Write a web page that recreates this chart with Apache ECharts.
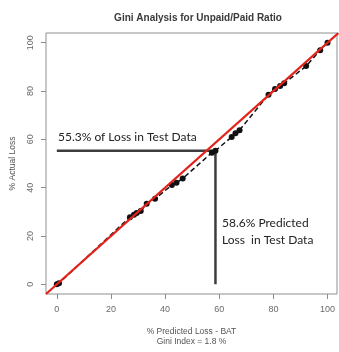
<!DOCTYPE html>
<html><head><meta charset="utf-8">
<script src="https://cdn.jsdelivr.net/npm/echarts@6/dist/echarts.min.js"></script>
<style>html,body{margin:0;padding:0;background:#fff}#c{width:339px;height:352px}</style>
</head><body><div id="c"></div>
<script>
// Gini (cumulative) curve points: % predicted loss (x) vs % actual loss (y)
const predictedPct = [0, 0.8, 27.0, 28.5, 29.5, 31.0, 33.2, 36.3, 42.5, 44.2, 46.5, 57.3, 58.6, 64.6, 66.0, 67.5, 78.2, 80.6, 82.5, 84.0, 92.1, 97.3, 100];
const actualPct    = [0, 0.5, 27.8, 28.8, 29.5, 30.3, 33.3, 35.4, 41.1, 42.0, 43.8, 54.5, 55.3, 61.0, 62.5, 63.8, 78.5, 80.8, 82.1, 83.2, 90.3, 96.9, 100];
// Reference diagonal (line of equality)
const diagX = [-4, 104];
const diagY = [-4, 104];
// Annotation cut point
const cutPredicted = 58.6;
const cutActual = 55.3;
const tickValues = [0, 20, 40, 60, 80, 100];

const curve = predictedPct.map((x, i) => [x, actualPct[i]]);
const diag = diagX.map((x, i) => [x, diagY[i]]);

const chart = echarts.init(document.getElementById('c'), null, {renderer: 'canvas'});
const axisCommon = {
  type: 'value',
  axisLine: {show: false, onZero: false},
  splitLine: {show: false},
  axisTick: {show: true, inside: false, length: 5, lineStyle: {color: '#8a8a8a'}, customValues: tickValues},
  axisLabel: {color: '#6a6a6a', fontSize: 9, fontFamily: 'Liberation Sans', customValues: tickValues}
};
chart.setOption({
  animation: false,
  title: {
    text: 'Gini Analysis for Unpaid/Paid Ratio',
    left: 193, top: 8, textAlign: 'center',
    textStyle: {fontSize: 10, fontWeight: 'bold', color: '#3a3a3a', fontFamily: 'Liberation Sans'}
  },
  grid: {left: 46, right: 2, top: 33, bottom: 56, show: true, borderColor: '#8f8f8f', borderWidth: 1, backgroundColor: 'transparent'},
  xAxis: Object.assign({}, axisCommon, {
    min: -4, max: 103.5,
    name: '% Predicted Loss - BAT\nGini Index = 1.8 %',
    nameLocation: 'middle', nameGap: 33,
    nameTextStyle: {color: '#555', fontSize: 8.5, fontFamily: 'Liberation Sans', lineHeight: 10},
    axisLabel: Object.assign({}, axisCommon.axisLabel, {margin: 11})
  }),
  yAxis: Object.assign({}, axisCommon, {
    min: -4, max: 104,
    name: '% Actual Loss',
    nameLocation: 'middle', nameGap: 29,
    nameTextStyle: {color: '#555', fontSize: 8.5, fontFamily: 'Liberation Sans'},
    axisLabel: Object.assign({}, axisCommon.axisLabel, {rotate: 90, margin: 11})
  }),
  series: [
    {
      type: 'line', data: curve, symbol: 'circle', symbolSize: 6,
      itemStyle: {color: '#111'},
      lineStyle: {color: '#111', width: 1.5, type: [5, 3]},
      z: 3
    },
    {
      type: 'line', data: diag, symbol: 'none',
      lineStyle: {color: '#e3221c', width: 2.3},
      z: 4
    },
    {
      type: 'line', data: [[0, cutActual], [cutPredicted, cutActual]], symbol: 'none',
      lineStyle: {color: '#3d3d3d', width: 2.5}, z: 2
    },
    {
      type: 'line', data: [[cutPredicted, cutActual], [cutPredicted, 0]], symbol: 'none',
      lineStyle: {color: '#3d3d3d', width: 2.5}, z: 2
    }
  ],
  graphic: [
    {type: 'text', left: 58, top: 131, style: {text: '55.3% of Loss in Test Data', fill: '#222', font: '12px Lato'}},
    {type: 'text', left: 222, top: 215, style: {text: '58.6% Predicted\nLoss  in Test Data', fill: '#222', font: '12px Lato', lineHeight: 16.5}}
  ]
});
</script></body></html>
